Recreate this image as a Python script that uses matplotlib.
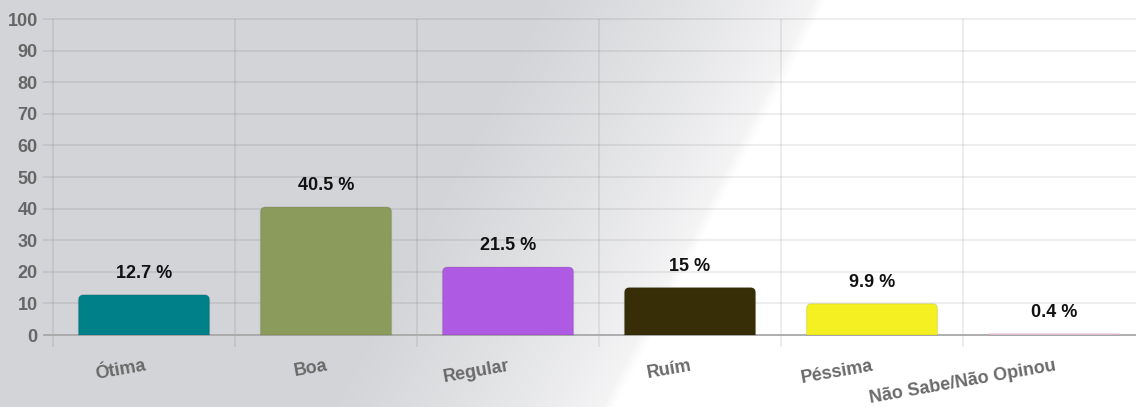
import matplotlib
matplotlib.use('Agg')
import matplotlib.pyplot as plt
from matplotlib.path import Path
from matplotlib.patches import PathPatch
from matplotlib.transforms import IdentityTransform
import numpy as np

plt.rcParams['font.family'] = ['Liberation Sans', 'DejaVu Sans']

categories = ['Ótima', 'Boa', 'Regular', 'Ruím', 'Péssima', 'Não Sabe/Não Opinou']
values = [12.7, 40.5, 21.5, 15, 9.9, 0.4]
value_labels = ['12.7 %', '40.5 %', '21.5 %', '15 %', '9.9 %', '0.4 %']
colors = ['#00818a', '#8b9b5b', '#af5ae3', '#372e08', '#f4f022', '#f0c8e0']
yticks = list(range(0, 101, 10))

W, H = 1136, 407
fig = plt.figure(figsize=(W / 100, H / 100), dpi=100)

# background: gray on the left, fading to white along a slanted edge
bg = fig.add_axes([0, 0, 1, 1], zorder=-5)
yy, xx = np.mgrid[0:H, 0:W]
edge = 820 - 0.52 * yy
d = edge - xx
t = np.clip(d / 280.0, 0, 1) ** 0.8
gray = np.array([211, 212, 215]) / 255
light = np.array([246, 246, 247]) / 255
img = light[None, None, :] * (1 - t[..., None]) + gray[None, None, :] * t[..., None]
soft = np.clip((d + 6) / 12.0, 0, 1)[..., None]
img = img * soft + (1 - soft)
bg.imshow(img, aspect='auto', extent=[0, W, H, 0])
bg.set_axis_off()

ax = fig.add_axes([53 / W, 72 / H, 1092 / W, 316 / H])
ax.patch.set_alpha(0)
x = np.arange(len(categories))
ax.set_xlim(-0.5, len(categories) - 0.5)
ax.set_ylim(0, 100)
for s in ax.spines.values():
    s.set_visible(False)

# grid lines with their little tick stubs
ax.hlines(yticks[1:], -0.5 - 10 / 182, len(categories) - 0.5,
          colors='black', alpha=0.08, lw=1.2, clip_on=False, zorder=1)
ax.vlines(np.arange(-0.5, len(categories)), -12 / 3.16, 100,
          colors='black', alpha=0.08, lw=1.2, clip_on=False, zorder=1)
ax.hlines([0], -0.5 - 10 / 182, len(categories) - 0.5,
          colors='#a8a8a8', lw=1.3, clip_on=False, zorder=3)

ax.set_yticks(yticks)
ax.tick_params(axis='y', length=0, pad=11, labelsize=13, labelcolor='#666666')
for lab in ax.get_yticklabels():
    lab.set_fontweight('bold')
ax.set_xticks([])

bars = ax.bar(x, values, width=0.72, color=colors, zorder=2)
fig.canvas.draw()
r = 5
for b in bars:
    (x0, y0), (x1, y1) = ax.transData.transform([(b.get_x(), 0),
                                                 (b.get_x() + b.get_width(), b.get_height())])
    rr = min(r, (y1 - y0) / 2)
    verts = [(x0, y0), (x0, y1 - rr), (x0, y1), (x0 + rr, y1),
             (x1 - rr, y1), (x1, y1), (x1, y1 - rr), (x1, y0), (x0, y0)]
    codes = [Path.MOVETO, Path.LINETO, Path.CURVE3, Path.CURVE3,
             Path.LINETO, Path.CURVE3, Path.CURVE3, Path.LINETO, Path.CLOSEPOLY]
    p = PathPatch(Path(verts, codes), facecolor=b.get_facecolor(),
                  edgecolor=(0, 0, 0, 0.08), lw=1, transform=IdentityTransform(), zorder=2)
    fig.add_artist(p)
    b.set_visible(False)

for xi, v, lab in zip(x, values, value_labels):
    ax.annotate(lab, (xi, v), xytext=(0, 12), textcoords='offset points',
                ha='center', va='baseline', fontsize=13, fontweight='bold',
                color='#111111', zorder=4)

for xi, cat in zip(x, categories):
    ax.annotate(cat, (xi, 0), xytext=(0, -16), textcoords='offset points',
                ha='right', va='top', rotation=10, rotation_mode='anchor',
                fontsize=13, fontweight='bold', color='#6a6a6a')

fig.savefig('out.png', dpi=100)
